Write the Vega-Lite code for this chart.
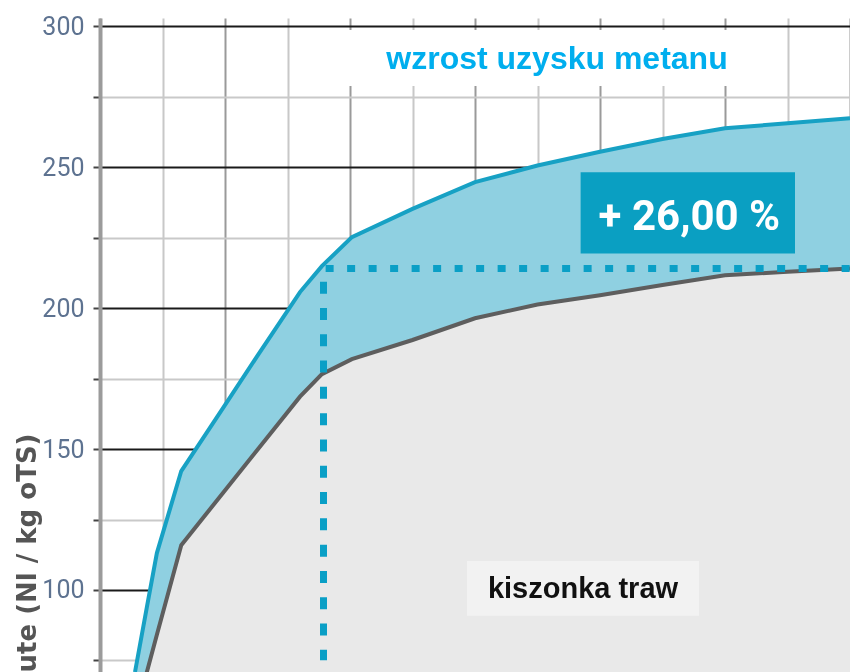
{
  "$schema": "https://vega.github.io/schema/vega-lite/v6.json",
  "width": 750,
  "height": 654,
  "autosize": "none",
  "padding": {"left": 100, "top": 18, "right": 0, "bottom": 0},
  "background": "white",
  "config": {"view": {"stroke": null}},
  "data": {
    "values": [
      {"x": 0.56, "blue": 70.9, "gray": 55.0},
      {"x": 0.75, "blue": 93.9, "gray": 70.9},
      {"x": 0.91, "blue": 113.1, "gray": 84.1},
      {"x": 1.3, "blue": 142.2, "gray": 115.9},
      {"x": 1.97, "blue": 164.6, "gray": 134.5},
      {"x": 2.51, "blue": 182.8, "gray": 149.5},
      {"x": 3.2, "blue": 205.7, "gray": 168.6},
      {"x": 3.55, "blue": 214.9, "gray": 176.6},
      {"x": 4.03, "blue": 225.2, "gray": 181.9},
      {"x": 5.0, "blue": 235.2, "gray": 188.7},
      {"x": 6.0, "blue": 244.7, "gray": 196.4},
      {"x": 7.0, "blue": 250.6, "gray": 201.3},
      {"x": 8.0, "blue": 255.5, "gray": 204.6},
      {"x": 9.0, "blue": 260.0, "gray": 208.2},
      {"x": 10.0, "blue": 263.8, "gray": 211.7},
      {"x": 11.0, "blue": 265.6, "gray": 212.9},
      {"x": 12.0, "blue": 267.4, "gray": 214.1}
    ]
  },
  "layer": [
    {
      "mark": {"type": "area", "color": "#e9e9e9", "blend": "multiply", "clip": true},
      "encoding": {
        "x": {
          "field": "x", "type": "quantitative",
          "scale": {"domain": [0, 12], "nice": false, "zero": false},
          "axis": {
            "values": [0, 1, 2, 3, 4, 5, 6, 7, 8, 9, 10, 11, 12],
            "labels": false, "ticks": false, "domain": false, "title": null,
            "grid": true,
            "gridColor": {"condition": {"test": "datum.value % 2 === 0", "value": "#9a9a9a"}, "value": "#c8c8c8"},
            "gridWidth": 2
          }
        },
        "y": {
          "field": "gray", "type": "quantitative",
          "scale": {"domain": [70.9, 302.95], "nice": false, "zero": false},
          "axis": {
            "values": [75, 100, 125, 150, 175, 200, 225, 250, 275, 300],
            "labelExpr": "datum.value % 50 === 0 ? datum.label : ''",
            "labelOverlap": false,
            "labelFlush": false,
            "grid": true,
            "gridColor": {"condition": {"test": "datum.value % 50 === 0", "value": "#1a1a1a"}, "value": "#c9c9c9"},
            "gridWidth": 2,
            "domainColor": "#9b9b9b",
            "domainWidth": 4,
            "tickColor": "#444444",
            "tickSize": 7,
            "tickWidth": 2,
            "labelFont": "Liberation Sans Narrow, Roboto",
            "labelFontSize": 25,
            "labelColor": "#5d7290",
            "labelPadding": 9,
            "title": "ute (Nl / kg oTS)",
            "titleFont": "DejaVu Sans",
            "titleFontWeight": "bold",
            "titleFontSize": 26,
            "titleColor": "#555555",
            "titleAngle": -90,
            "titleX": -65,
            "titleY": 415,
            "titleAlign": "right",
            "titleBaseline": "alphabetic"
          }
        },
        "y2": {"datum": 60}
      }
    },
    {
      "mark": {"type": "area", "color": "#8fd0e1", "blend": "multiply", "clip": true},
      "encoding": {
        "x": {"field": "x", "type": "quantitative"},
        "y": {"field": "blue", "type": "quantitative"},
        "y2": {"field": "gray"}
      }
    },
    {
      "data": {"values": [{"label": "wzrost uzysku metanu"}]},
      "mark": {"type": "rect", "color": "#ffffff"},
      "encoding": {
        "x": {"datum": 3.84, "type": "quantitative"},
        "x2": {"datum": 10.59},
        "y": {"datum": 298.7, "type": "quantitative"},
        "y2": {"datum": 278.8}
      }
    },
    {
      "data": {"values": [{"label": "wzrost uzysku metanu"}]},
      "mark": {"type": "text", "font": "Liberation Sans", "fontWeight": "bold", "fontSize": 32, "color": "#00aeee", "align": "center", "baseline": "alphabetic"},
      "encoding": {
        "x": {"datum": 7.312, "type": "quantitative"},
        "y": {"datum": 284.85, "type": "quantitative"},
        "text": {"field": "label"}
      }
    },
    {
      "mark": {"type": "line", "color": "#5e5e5e", "strokeWidth": 4, "clip": true},
      "encoding": {
        "x": {"field": "x", "type": "quantitative"},
        "y": {"field": "gray", "type": "quantitative"}
      }
    },
    {
      "mark": {"type": "line", "color": "#17a1c4", "strokeWidth": 4, "clip": true},
      "encoding": {
        "x": {"field": "x", "type": "quantitative"},
        "y": {"field": "blue", "type": "quantitative"}
      }
    },
    {
      "data": {"values": [{"label": "poziom"}]},
      "mark": {"type": "rule", "color": "#0a9fc6", "strokeWidth": 7, "strokeDash": [8, 13.5], "strokeCap": "butt"},
      "encoding": {
        "x": {"datum": 3.61, "type": "quantitative"},
        "x2": {"datum": 12},
        "y": {"datum": 214.1, "type": "quantitative"}
      }
    },
    {
      "data": {"values": [{"label": "pion"}]},
      "mark": {"type": "rule", "color": "#0a9fc6", "strokeWidth": 7, "strokeDash": [12, 14.3], "strokeCap": "butt"},
      "encoding": {
        "x": {"datum": 3.576, "type": "quantitative"},
        "y": {"datum": 209.4, "type": "quantitative"},
        "y2": {"datum": 75.1}
      }
    },
    {
      "data": {"values": [{"label": "+ 26,00 %"}]},
      "mark": {"type": "rect", "color": "#0a9fc2"},
      "encoding": {
        "x": {"datum": 7.69, "type": "quantitative"},
        "x2": {"datum": 11.12},
        "y": {"datum": 248.2, "type": "quantitative"},
        "y2": {"datum": 219.4}
      }
    },
    {
      "data": {"values": [{"label": "+ 26,00 %"}]},
      "mark": {"type": "text", "font": "Roboto", "fontWeight": "bold", "fontSize": 42, "color": "#ffffff", "align": "center", "baseline": "alphabetic"},
      "encoding": {
        "x": {"datum": 9.43, "type": "quantitative"},
        "y": {"datum": 227.7, "type": "quantitative"},
        "text": {"field": "label"}
      }
    },
    {
      "data": {"values": [{"label": "kiszonka traw"}]},
      "mark": {"type": "rect", "color": "#f2f2f2"},
      "encoding": {
        "x": {"datum": 5.872, "type": "quantitative"},
        "x2": {"datum": 9.584},
        "y": {"datum": 110.26, "type": "quantitative"},
        "y2": {"datum": 90.84}
      }
    },
    {
      "data": {"values": [{"label": "kiszonka traw"}]},
      "mark": {"type": "text", "font": "Liberation Sans", "fontWeight": "bold", "fontSize": 29, "color": "#111111", "align": "center", "baseline": "alphabetic"},
      "encoding": {
        "x": {"datum": 7.728, "type": "quantitative"},
        "y": {"datum": 97.0, "type": "quantitative"},
        "text": {"field": "label"}
      }
    }
  ]
}
